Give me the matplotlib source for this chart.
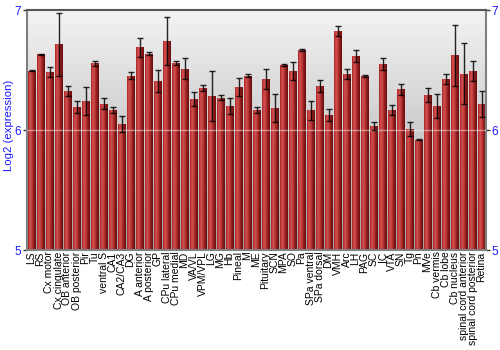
import numpy as np
import matplotlib
matplotlib.use('Agg')
from matplotlib import pyplot as plt
from matplotlib.colors import LinearSegmentedColormap

# region names and log2 expression (mean, error)
regions = ['LS', 'RS', 'Cx motor', 'Cx cingulate', 'OB anterior', 'OB posterior', 'Pir', 'Tu',
           'ventral S', 'CA1', 'CA2/CA3', 'DG', 'A anterior', 'A posterior', 'GP', 'CPu lateral',
           'CPu medial', 'MD', 'VA/VL', 'VPM/VPL', 'LG', 'MG', 'Hb', 'Pineal', 'M', 'ME',
           'Pituitary', 'SCN', 'MPA', 'SO', 'Pa', 'SPa ventral', 'SPa dorsal', 'DM', 'VMH', 'Arc',
           'LH', 'PAG', 'SC', 'IC', 'VTA', 'SN', 'Tg', 'Pn', 'MVe', 'Cb vermis', 'Cb lobe',
           'Cb nucleus', 'spinal cord anterior', 'spinal cord posterior', 'Retina']
expr = [6.494, 6.63, 6.483, 6.714, 6.325, 6.194, 6.242, 6.556,
        6.22, 6.167, 6.05, 6.453, 6.689, 6.636, 6.408, 6.739,
        6.558, 6.511, 6.258, 6.347, 6.283, 6.27, 6.2, 6.356, 6.453, 6.167,
        6.425, 6.183, 6.542, 6.489, 6.667, 6.164, 6.364, 6.122, 6.825, 6.467,
        6.617, 6.453, 6.033, 6.55, 6.169, 6.339, 6.008, 5.92, 6.292, 6.197, 6.425,
        6.622, 6.467, 6.492, 6.217]
err = [0.004, 0.006, 0.044, 0.265, 0.04, 0.05, 0.113, 0.02,
       0.043, 0.025, 0.07, 0.03, 0.078, 0.01, 0.095, 0.2,
       0.017, 0.09, 0.06, 0.025, 0.21, 0.022, 0.064, 0.076, 0.01, 0.027,
       0.08, 0.115, 0.01, 0.075, 0.006, 0.078, 0.05, 0.05, 0.043, 0.045,
       0.05, 0.008, 0.036, 0.05, 0.04, 0.046, 0.057, 0.003, 0.055, 0.1, 0.04,
       0.255, 0.254, 0.083, 0.11]

blue = '#1a1aff'
fig = plt.figure(figsize=(5, 3.5), dpi=100)
ax = fig.add_axes([0.054, 0.2857, 0.918, 0.6857])

x = np.arange(len(regions))
ax.set_xlim(-0.5, len(regions) - 0.5)
ax.set_ylim(5, 7)

# gray background gradient
bg = LinearSegmentedColormap.from_list('bg', ['#a4a4a4', '#cdcdcd', '#f3f3f3'])
ax.imshow(np.linspace(0, 1, 100).reshape(-1, 1), cmap=bg, aspect='auto',
          extent=[-0.5, len(regions) - 0.5, 5, 7], origin='lower', zorder=0)

# shaded red bars
redmap = LinearSegmentedColormap.from_list('red', ['#a82222', '#d45252', '#c03a3a', '#8a1a1a', '#6a0e0e'])
grad = np.linspace(0, 1, 50).reshape(1, -1)
bars = ax.bar(x, np.array(expr) - 5, bottom=5, width=0.86, color='#b02a2a', linewidth=0, zorder=1)
for b in bars:
    x0, y0 = b.get_x(), b.get_y()
    im = ax.imshow(grad, cmap=redmap, aspect='auto', zorder=2,
                   extent=[x0, x0 + b.get_width(), y0, y0 + b.get_height()])
    im.set_clip_path(b)

ax.axhline(6, color='white', lw=1, alpha=0.45, zorder=3)
ax.errorbar(x, expr, yerr=err, fmt='none', ecolor='black', elinewidth=1,
            capsize=2.5, capthick=1, alpha=0.85, zorder=4)

ax.set_xticks(x)
ax.set_xticklabels(regions, rotation=90, fontsize=7.5, family='Liberation Sans')
ax.tick_params(axis='x', length=0, pad=1)
ax.set_yticks([5, 6, 7])
ax.tick_params(axis='y', which='both', left=True, right=True, labelleft=True, labelright=True,
               labelcolor=blue, labelsize=8.5, length=3, width=1, color='#333333', pad=1)
ax.set_ylabel('Log2 (expression)', color=blue, fontsize=8.2, family='Liberation Sans')
ax.yaxis.set_label_coords(-0.028, 0.52)
for t in ax.get_yticklabels():
    t.set_family('Liberation Sans')
for side in ['left', 'right', 'top', 'bottom']:
    ax.spines[side].set_color('#808080')
    ax.spines[side].set_linewidth(1.5)
ax.spines['top'].set_color('#555555')

fig.savefig('out.png', dpi=100)
